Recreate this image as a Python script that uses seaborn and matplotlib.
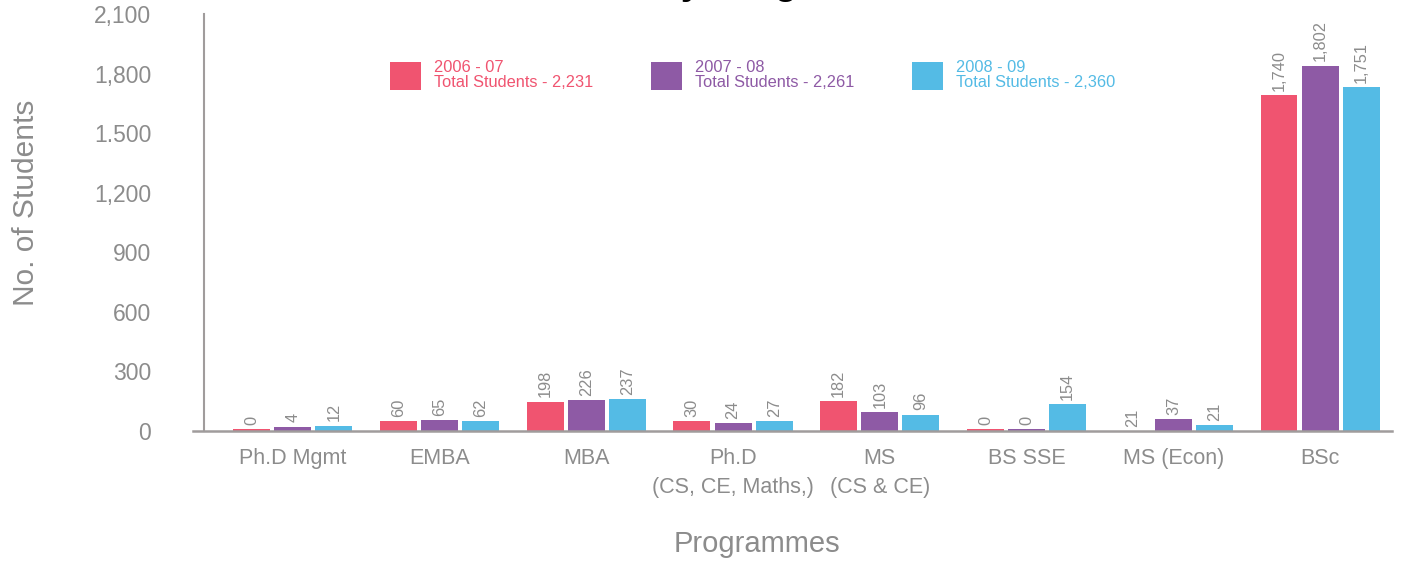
import matplotlib
matplotlib.use("Agg")
import matplotlib.pyplot as plt
import seaborn as sns
import pandas as pd
from matplotlib.patches import Patch

# ---------------- data ----------------
programmes = ["Ph.D Mgmt", "EMBA", "MBA", "Ph.D\n(CS, CE, Maths,)", "MS\n(CS & CE)",
              "BS SSE", "MS (Econ)", "BSc"]
years = ["2006 - 07", "2007 - 08", "2008 - 09"]
totals = ["2,231", "2,261", "2,360"]

# bar heights as drawn in the picture
bars_0607 = [10, 52, 148, 50, 151, 11, 0, 1690]
bars_0708 = [22, 56, 155, 38, 95, 11, 62, 1840]
bars_0809 = [27, 52, 162, 49, 83, 136, 30, 1730]

# value labels printed above the bars
labels_0607 = ["0", "60", "198", "30", "182", "0", "21", "1,740"]
labels_0708 = ["4", "65", "226", "24", "103", "0", "37", "1,802"]
labels_0809 = ["12", "62", "237", "27", "96", "154", "21", "1,751"]

y_ticks = [0, 300, 600, 900, 1200, 1500, 1800, 2100]
y_ticklabels = ["0", "300", "600", "900", "1,200", "1.500", "1,800", "2,100"]

colors = ["#F05470", "#8E5AA5", "#54BBE5"]
grey = "#8c8c8c"
axis_grey = "#a09c9c"

# ---------------- frame ----------------
df = pd.DataFrame({
    "programme": programmes * 3,
    "year": [years[0]] * 8 + [years[1]] * 8 + [years[2]] * 8,
    "students": bars_0607 + bars_0708 + bars_0809,
})

sns.set_style("white")
plt.rcParams["font.family"] = ["Liberation Sans", "DejaVu Sans"]

W, H = 1403, 561
fig = plt.figure(figsize=(W / 100, H / 100), dpi=100)
ax = fig.add_axes([193 / W, 1 - 431 / H, (1392 - 193) / W, (431 - 14) / H])

sns.barplot(data=df, x="programme", y="students", hue="year", order=programmes,
            hue_order=years, palette=colors, width=0.84, gap=0.1, saturation=1,
            errorbar=None, legend=False, ax=ax, linewidth=0)

for cont, labs in zip(ax.containers, [labels_0607, labels_0708, labels_0809]):
    ax.bar_label(cont, labels=labs, rotation=90, padding=3, fontsize=11.8, color=grey)

ax.set_ylim(0, 2100)
ax.set_xlim(-0.68, 7.49)
ax.set_yticks(y_ticks)
ax.set_yticklabels(y_ticklabels)

for s in ["top", "right"]:
    ax.spines[s].set_visible(False)
ax.spines["left"].set_position(("axes", 0.0092))
ax.spines["left"].set_color(axis_grey)
ax.spines["left"].set_linewidth(1.5)
ax.spines["bottom"].set_color(axis_grey)
ax.spines["bottom"].set_linewidth(1.8)

ax.tick_params(axis="y", length=8, width=1.3, color=axis_grey, pad=30,
               labelsize=16.5, labelcolor=grey, direction="out")
ax.tick_params(axis="x", length=0, pad=12, labelsize=15.5, labelcolor=grey)
for t in ax.get_xticklabels():
    t.set_linespacing(1.5)

ax.set_ylabel("No. of Students", fontsize=21.5, color=grey)
ax.yaxis.set_label_coords(-0.1276, 0.547)
ax.set_xlabel("Programmes", fontsize=21, color=grey)
ax.xaxis.set_label_coords(0.470, -0.238)

# legend
handles = [Patch(facecolor=c, edgecolor="none") for c in colors]
leg_labels = [f"{y}\nTotal Students - {t}" for y, t in zip(years, totals)]
leg = fig.legend(handles, leg_labels, ncol=3, loc="upper left",
                 bbox_to_anchor=(390 / W, 1 - 60 / H), frameon=False,
                 fontsize=11.8, handlelength=1.9, handleheight=2.2,
                 handletextpad=0.8, columnspacing=3.5, borderpad=0,
                 borderaxespad=0)
for txt, c in zip(leg.get_texts(), colors):
    txt.set_color(c)
    txt.set_linespacing(1.0)

# title (largely above the visible canvas, as in the reference)
fig.text(0.4925, 1 + 6 / H, "Enrolment by Programme", ha="center", va="baseline",
         fontsize=27, fontweight="bold", color="black")

fig.savefig("out.png", dpi=100)
